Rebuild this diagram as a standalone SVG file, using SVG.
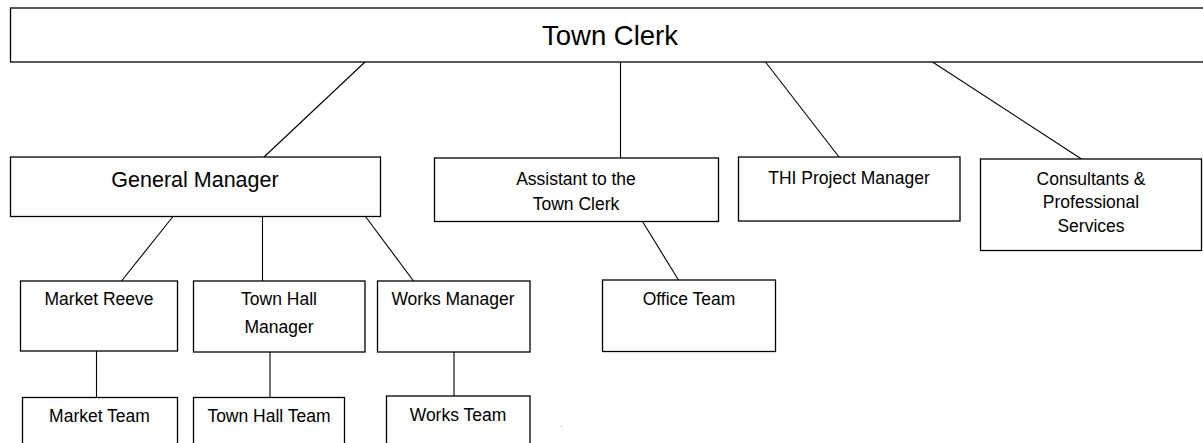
<svg xmlns="http://www.w3.org/2000/svg" width="1203" height="443" viewBox="0 0 1203 443">
<style>
.box{fill:#fff;stroke:#000;stroke-width:1.3}
.t{font-family:"Liberation Sans",Arial,sans-serif;fill:#000;text-anchor:middle;font-size:17.5px}
.c{stroke:#000;stroke-width:1.1;fill:none}
</style>
<rect width="1203" height="443" fill="#fff"/>
<g id="connectors">
<line class="c" x1="365" y1="62" x2="264" y2="157"/>
<line class="c" x1="620.5" y1="62" x2="620.5" y2="158"/>
<line class="c" x1="765.5" y1="62" x2="839" y2="157"/>
<line class="c" x1="932.5" y1="62" x2="1081.5" y2="159"/>
<line class="c" x1="173" y1="216.5" x2="121.5" y2="281"/>
<line class="c" x1="262.5" y1="216.5" x2="262.5" y2="281"/>
<line class="c" x1="365.5" y1="216.5" x2="413.5" y2="281"/>
<line class="c" x1="642.5" y1="221.5" x2="678.5" y2="280"/>
<line class="c" x1="96.5" y1="351" x2="96.5" y2="397"/>
<line class="c" x1="270" y1="352" x2="270" y2="397"/>
<line class="c" x1="454" y1="352" x2="454" y2="396"/>
</g>
<g id="town-clerk">
<rect class="box" x="10.5" y="8" width="1200" height="54"/>
<text class="t" x="610" y="45" style="font-size:27.5px">Town Clerk</text>
</g>
<g id="general-manager">
<rect class="box" x="10.5" y="157" width="370" height="59.5"/>
<text class="t" x="195" y="187" style="font-size:21.5px">General Manager</text>
</g>
<g id="assistant">
<rect class="box" x="434.5" y="158" width="284" height="63.5"/>
<text class="t" x="576" y="185">Assistant to the</text>
<text class="t" x="576" y="210">Town Clerk</text>
</g>
<g id="thi-project-manager">
<rect class="box" x="738.5" y="157" width="221.5" height="64"/>
<text class="t" x="849" y="183.5">THI Project Manager</text>
</g>
<g id="consultants">
<rect class="box" x="980.5" y="159" width="221" height="91.5"/>
<text class="t" x="1091" y="184.5">Consultants &amp;</text>
<text class="t" x="1091" y="208">Professional</text>
<text class="t" x="1091" y="231.5">Services</text>
</g>
<g id="market-reeve">
<rect class="box" x="20.5" y="281" width="157" height="70"/>
<text class="t" x="99" y="305">Market Reeve</text>
</g>
<g id="town-hall-manager">
<rect class="box" x="193.5" y="281" width="171.5" height="71"/>
<text class="t" x="279" y="305">Town Hall</text>
<text class="t" x="279" y="332.5">Manager</text>
</g>
<g id="works-manager">
<rect class="box" x="377.5" y="281" width="152.5" height="71"/>
<text class="t" x="453" y="305">Works Manager</text>
</g>
<g id="office-team">
<rect class="box" x="602.5" y="280" width="173" height="71.5"/>
<text class="t" x="689" y="305">Office Team</text>
</g>
<g id="market-team">
<rect class="box" x="22.5" y="397.5" width="155" height="60"/>
<text class="t" x="99.5" y="421.5">Market Team</text>
</g>
<g id="town-hall-team">
<rect class="box" x="193.5" y="397.5" width="151" height="60"/>
<text class="t" x="269" y="421.5">Town Hall Team</text>
</g>
<g id="works-team">
<rect class="box" x="386.5" y="396" width="143.5" height="60"/>
<text class="t" x="458" y="421">Works Team</text>
</g>
<rect x="561" y="426" width="1" height="1" fill="#6f8fc8"/>
</svg>
